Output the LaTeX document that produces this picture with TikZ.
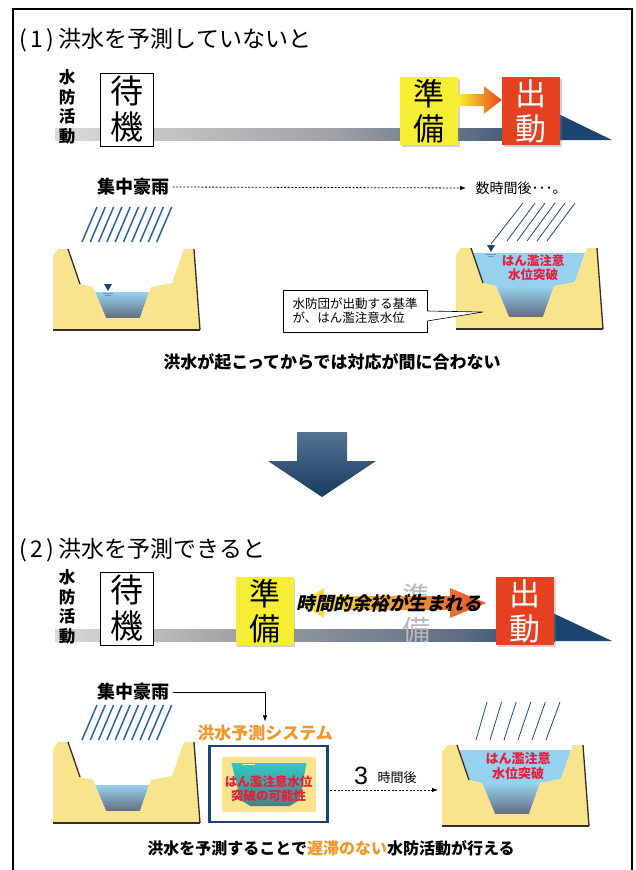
\documentclass[tikz,border=0pt]{standalone}
\usepackage{fontspec}
\setmainfont{Noto Sans CJK JP}
\newfontfamily\slantjp{Noto Sans CJK JP}[FakeSlant=0.22]
\newfontfamily\digitfont{Liberation Sans}
\usetikzlibrary{arrows.meta,calc,shadows}

\definecolor{bankY}{RGB}{249,228,142}
\definecolor{bankLine}{RGB}{55,45,35}
\definecolor{boxY}{RGB}{246,238,52}
\definecolor{boxR}{RGB}{229,64,32}
\definecolor{navy}{RGB}{28,68,112}
\definecolor{rainB}{RGB}{35,100,170}
\definecolor{waterT}{RGB}{150,210,240}
\definecolor{waterB}{RGB}{100,108,128}
\definecolor{alertR}{RGB}{232,28,60}
\definecolor{orangeT}{RGB}{242,150,40}
\definecolor{barL}{RGB}{218,218,218}
\definecolor{barM}{RGB}{160,162,166}
\definecolor{barD}{RGB}{95,110,132}

\tikzset{
  heading/.style={anchor=west, font=\fontsize{23}{23}\selectfont},
  vstack/.style={align=center, inner sep=0pt, font=\bfseries\fontsize{16.5}{19.5}\selectfont},
  waitbox/.style={draw=black, line width=0.7pt, fill=white, minimum width=53pt,
    minimum height=73pt, align=center, inner sep=0pt, font=\fontsize{33}{36}\selectfont},
  prepbox/.style={fill=boxY, minimum width=58pt, minimum height=68pt, align=center,
    inner sep=0pt, font=\fontsize{31}{35}\selectfont,
    drop shadow={shadow xshift=1.5pt, shadow yshift=-1.5pt, opacity=0.35}},
  gobox/.style={prepbox, fill=boxR, text=white},
  rainlbl/.style={font=\bfseries\fontsize{18}{18}\selectfont},
  rainline/.style={draw=rainB, line width=1.5pt},
  thinrain/.style={draw=rainB!75!black, line width=0.8pt},
  dotarrow/.style={dash pattern=on 2pt off 1.6pt, line width=0.8pt,
    -{Latex[length=6pt,width=4.5pt]}},
  alert/.style={text=alertR, align=center, inner sep=0pt,
    font=\bfseries\fontsize{12.5}{14}\selectfont},
  riverbank/.pic={
    \fill[bankY] (0,0) -- (0,-74) -- (5,-81) -- (15,-81) -- (27,-46) -- (40,-43)
      -- (53,-12) -- (87,-12) -- (98,-43) -- (119,-47) -- (131,-81) -- (141,-81)
      -- (147,0) -- cycle;
    \draw[bankLine, line width=1.3pt] (15,-81) -- (27,-46);
    \draw[bankLine, line width=1.3pt] (141,-81) -- (147,0);
    \draw[bankLine, line width=1.6pt] (0,0) -- (147,0);
  },
  lowwater/.pic={
    \shade[top color=waterT, bottom color=waterB]
      (42,-38) -- (96,-38) -- (87,-12) -- (53,-12) -- cycle;
  },
  fullwater/.pic={
    \fill[waterT] (17,-76) -- (129,-76) -- (119,-47) -- (98,-43) -- (87,-12)
      -- (53,-12) -- (40,-43) -- (27,-46) -- cycle;
    \shade[top color=waterT, bottom color=waterB]
      (40,-43) -- (98,-43) -- (87,-12) -- (53,-12) -- cycle;
  },
  levelmark/.pic={
    \fill[navy] (-4,-8) -- (4,-8) -- (0,-1) -- cycle;
    \draw[navy!60, line width=0.8pt] (-5,1) -- (5,1) (-3,3.5) -- (3,3.5);
  },
}

\begin{document}
\begin{tikzpicture}[x=1pt,y=-1pt]
\useasboundingbox (0,0) rectangle (635,870);
\fill[white] (0,0) rectangle (635,870);

% outer frame
\draw[line width=2pt] (13,870) -- (13,9) -- (632,9) -- (632,870);

% ---------- part (1) ----------
\node[heading] (title1) at (16,40) {(\kern3pt1\kern3pt)\kern5pt洪水を予測していないと};

% time line
\shade[left color=barL, right color=barM] (55,128) rectangle (330,140);
\shade[left color=barM, right color=barD] (330,128) rectangle (470,140);
\shade[left color=barD, right color=navy] (470,128) rectangle (560,140);
\fill[navy] (546,108) -- (612,140) -- (546,140) -- cycle;

\node[vstack] (act1) at (67,107) {水\\防\\活\\動};
\node[waitbox] (wait1) at (126.5,109.5) {待\\機};
\node[prepbox] (prep1) at (429,111) {準\\備};
\node[gobox] (go1) at (531,111) {出\\動};

\coordinate (a1s) at ($(prep1.east)+(0,-11)$);
\coordinate (a1e) at ($(go1.west)+(0,-11)$);
\shade[left color=boxY, right color=boxR!90!orange]
  ($(a1s)+(0,-6)$) -- ($(a1e)+(-18,-6)$) -- ($(a1e)+(-18,-14)$) -- (a1e)
  -- ($(a1e)+(-18,14)$) -- ($(a1e)+(-18,6)$) -- ($(a1s)+(0,6)$) -- cycle;

% rain and rivers
\node[rainlbl] (rain1) at (133,187) {集中豪雨};
\node[anchor=west, font=\fontsize{14}{14}\selectfont] (later1) at (472,188) {数時間後･･･。};
\draw[dotarrow, shorten >=6pt] (rain1.east) -- (later1.west);

\foreach \i in {0,...,9}
  \draw[rainline] ({82+8.3*\i},242) -- ({97+8.3*\i},207);

\pic at (53,330) {lowwater};
\pic at (53,330) {riverbank};
\pic at (108,292) {levelmark};

\pic at (456,329) {fullwater};
\pic at (456,329) {riverbank};
\pic at (491,253) {levelmark};
\draw[thinrain] (523,203) -- (491,244);
\foreach \j in {1,...,5}
  \draw[thinrain] ({525+10*\j},203) -- ({497+10*\j},241);
\node[alert] (alert1) at (533,268) {はん濫注意\\水位突破};

% callout
\node[draw=black, line width=0.6pt, fill=white, minimum width=144pt, minimum height=42pt,
  align=left, inner sep=0pt, font=\fontsize{12.5}{14}\selectfont] (callout1) at (355,311)
  {水防団が出動する基準\\が、はん濫注意水位};
\coordinate (tip1) at (483,312);
\fill[white] ($(callout1.east)+(-1,0)$) -- (tip1) -- ($(callout1.east)+(-1,10)$) -- cycle;
\draw[line width=0.6pt] (callout1.east) -- (tip1) -- ($(callout1.east)+(0,10)$);

\node[font=\bfseries\fontsize{17}{17}\selectfont] (concl1) at (332,362)
  {洪水が起こってからでは対応が間に合わない};

% transition arrow
\shade[top color=navy!75!white, bottom color=navy!85!black]
  (297,432) -- (347,432) -- (347,461) -- (376,461) -- (322,497) -- (268,461)
  -- (297,461) -- cycle;

% ---------- part (2) ----------
\node[heading] (title2) at (16,550) {(\kern3pt2\kern3pt)\kern5pt洪水を予測できると};

\shade[left color=barL, right color=barM] (55,629) rectangle (235,641);
\shade[left color=barM, right color=barD] (235,629) rectangle (460,641);
\shade[left color=barD, right color=navy] (460,629) rectangle (555,641);
\fill[navy] (540,607) -- (612,641) -- (540,641) -- cycle;

\node[vstack] (act2) at (67,607) {水\\防\\活\\動};
\node[waitbox] (wait2) at (126.5,608.5) {待\\機};
\node[prepbox] (prep2) at (264.5,611) {準\\備};
\node[align=center, inner sep=0pt, text=gray!55, font=\fontsize{28}{33}\selectfont]
  (ghost2) at (416,613) {準\\備};
\node[gobox] (go2) at (525,611) {出\\動};

\shade[left color=boxY, right color=boxR!90!orange, opacity=0.92]
  (300,603) -- (324,588) -- (324,596) -- (450,596) -- (450,588) -- (486,603)
  -- (450,618) -- (450,610) -- (324,610) -- (324,618) -- cycle;
\node[inner sep=0pt, font=\slantjp\bfseries\fontsize{18.5}{18.5}\selectfont] (margin2)
  at (389,603) {時間的余裕が生まれる};

% rain, forecast system, rivers
\node[rainlbl] (rain2) at (133,692) {集中豪雨};
\foreach \i in {0,...,9}
  \draw[rainline] ({82+8.3*\i},740) -- ({97+8.3*\i},705);

\node[text=orangeT, font=\bfseries\fontsize{17}{17}\selectfont] (systitle) at (265,733)
  {洪水予測システム};
\draw[line width=0.6pt, -{Latex[length=6pt,width=4.5pt]}] (rain2.east) -| (systitle.north);

\node[draw=navy, line width=2.8pt, fill=white, minimum width=118pt, minimum height=76pt,
  inner sep=0pt] (sysbox) at (268.5,784) {};
\begin{scope}[shift={(sysbox.center)}]
  \fill[bankY, rounded corners=2pt] (-46.5,-27) rectangle (47.5,28);
  \shade[top color=teal!55!cyan!80!white, bottom color=teal!40!gray]
    (-37,-21) -- (38,-21) -- (31,16) -- (21,22) -- (-18,22) -- (-28,16) -- cycle;
  \draw[white, line width=1pt] (-26,-20) -- (-14,-20);
\end{scope}
\node[alert] (alert3) at (268.5,789) {はん濫注意水位\\突破の可能性};

\pic at (53,823) {lowwater};
\pic at (53,823) {riverbank};

\pic at (442,826) {fullwater};
\pic at (442,826) {riverbank};
\foreach \j in {0,...,5}
  \draw[thinrain] ({487+14.6*\j},702) -- ({476+14*\j},740);
\node[alert, font=\bfseries\fontsize{13}{15}\selectfont] (alert2) at (518,766)
  {はん濫注意\\水位突破};

\coordinate (arr3) at (438,790);
\draw[dotarrow] ($(sysbox.east)+(1.5,6)$) -- (arr3);
\node[font=\digitfont\fontsize{25}{25}\selectfont] (three) at (361,776) {3};
\node[font=\fontsize{13}{13}\selectfont] (hours) at (397,778) {時間後};

\node[font=\bfseries\fontsize{16}{16}\selectfont] (concl2) at (331,848)
  {洪水を予測することで{\color{orangeT}遅滞のない}水防活動が行える};
\end{tikzpicture}
\end{document}
